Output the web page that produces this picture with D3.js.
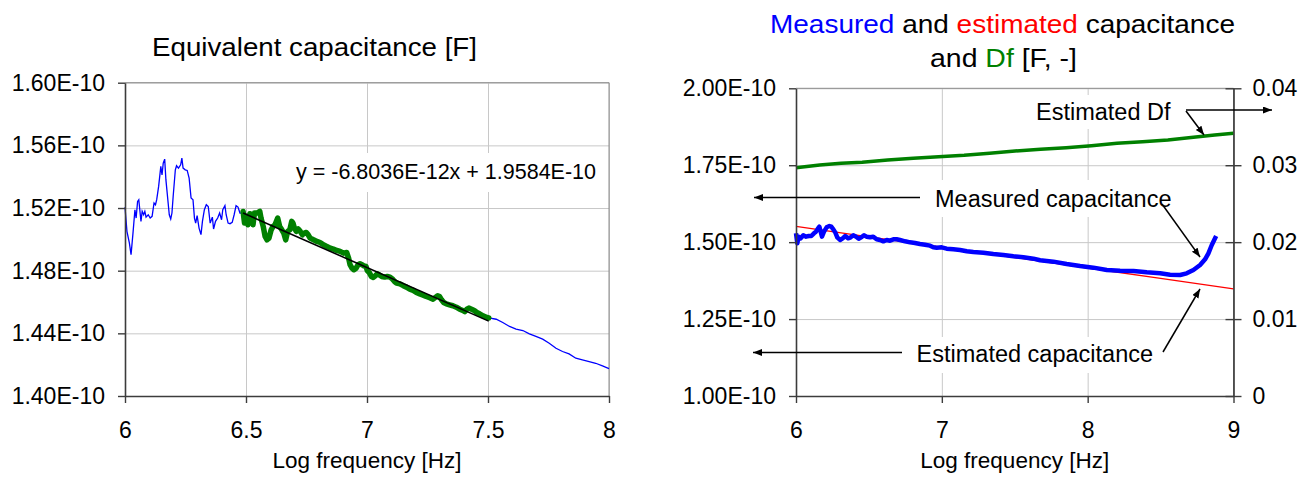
<!DOCTYPE html>
<html>
<head>
<meta charset="utf-8">
<script src="https://cdn.jsdelivr.net/npm/d3@7/dist/d3.min.js"></script>
<style>
  body { margin: 0; background: #fff; }
  svg { display: block; }
</style>
</head>
<body>
<svg width="1312" height="477"></svg>
<script>
// ---- data (capacitance in units of 1E-10 F, frequency as log10 Hz) ----
const leftFreq = [6.000,6.008,6.018,6.025,6.033,6.041,6.046,6.052,6.057,6.066,6.071,6.077,6.082,6.087,6.096,6.104,6.112,6.120,6.126,6.131,
  6.139,6.148,6.153,6.158,6.164,6.169,6.175,6.183,6.189,6.194,6.199,6.208,6.213,6.221,6.230,6.235,6.240,6.249,6.257,6.265,
  6.273,6.281,6.287,6.292,6.298,6.306,6.314,6.320,6.328,6.336,6.344,6.352,6.361,6.366,6.374,6.383,6.391,6.399,6.404,6.413,
  6.418,6.426,6.434,6.443,6.451,6.459,6.467,6.475,6.484,
  6.488,6.494,6.502,6.508,6.516,6.524,6.529,6.535,6.546,6.557,6.562,6.571,6.579,6.587,6.595,6.604,6.612,6.620,6.631,6.639,
  6.648,6.656,6.664,6.672,6.681,6.689,6.694,6.700,6.708,6.716,6.724,6.733,6.741,6.749,6.757,6.765,6.779,6.793,6.806,6.820,
  6.834,6.848,6.861,6.875,6.889,6.903,6.916,6.924,6.930,6.938,6.946,6.955,6.963,6.971,6.979,6.987,6.996,7.001,7.009,7.018,
  7.026,7.034,7.042,7.050,7.061,7.073,7.084,7.095,7.106,7.114,7.122,7.136,7.150,7.163,7.177,7.191,7.204,7.218,7.232,7.245,
  7.259,7.273,7.284,7.292,7.300,7.308,7.317,7.328,7.341,7.355,7.369,7.383,7.396,7.404,7.413,7.421,7.432,7.443,7.454,7.465,
  7.479,7.492,7.503,
  7.534,7.561,7.589,7.616,7.644,7.671,7.698,7.726,7.753,7.781,7.808,7.835,7.863,7.890,7.918,7.945,7.973,8.000];
const leftCap = [1.5206,1.5051,1.4977,1.4902,1.5040,1.5189,1.5136,1.5242,1.5253,1.5115,1.5179,1.5157,1.5179,1.5142,1.5157,1.5136,1.5147,1.5232,1.5221,1.5253,
  1.5338,1.5466,1.5412,1.5487,1.5512,1.5381,1.5285,1.5157,1.5130,1.5168,1.5274,1.5444,1.5470,1.5455,1.5476,1.5519,1.5455,1.5444,1.5440,1.5391,
  1.5264,1.5253,1.5136,1.5104,1.5151,1.5072,1.5030,1.5115,1.5189,1.5221,1.5210,1.5104,1.5142,1.5066,1.5115,1.5136,1.5168,1.5125,1.5189,1.5215,
  1.5157,1.5104,1.5100,1.5108,1.5157,1.5215,1.5206,1.5168,1.5168,
  1.5178,1.5104,1.5147,1.5093,1.5164,1.5157,1.5093,1.5168,1.5168,1.5178,1.5136,1.5083,1.5019,1.4997,1.5008,1.5061,1.5083,1.5093,1.5136,1.5083,
  1.5061,1.5040,1.4997,1.5051,1.5061,1.5115,1.5104,1.5072,1.5051,1.5066,1.5051,1.5029,1.5040,1.5044,1.5029,1.5008,1.4997,1.4987,1.4980,1.4965,
  1.4955,1.4944,1.4938,1.4929,1.4923,1.4912,1.4916,1.4880,1.4838,1.4816,1.4806,1.4816,1.4838,1.4844,1.4838,1.4831,1.4827,1.4801,1.4789,1.4763,
  1.4757,1.4767,1.4780,1.4774,1.4763,1.4759,1.4763,1.4759,1.4746,1.4731,1.4721,1.4716,1.4704,1.4695,1.4682,1.4674,1.4661,1.4652,1.4644,1.4635,
  1.4627,1.4618,1.4631,1.4640,1.4635,1.4614,1.4597,1.4588,1.4582,1.4576,1.4567,1.4554,1.4546,1.4539,1.4554,1.4561,1.4554,1.4546,1.4533,1.4525,
  1.4512,1.4503,1.4499,
  1.4490,1.4469,1.4444,1.4427,1.4418,1.4397,1.4380,1.4363,1.4337,1.4305,1.4284,1.4269,1.4241,1.4231,1.4220,1.4209,1.4192,1.4175];
const fitFrom = 6.488, fitTo = 7.503;
const trendFreq = [6.488, 7.503];
const trendCap = [1.5168, 1.4478];

const measFreq = [6.000,6.009,6.018,6.032,6.050,6.069,6.087,6.105,6.123,6.137,6.151,6.160,6.169,6.178,6.192,6.210,6.229,6.242,6.256,6.270,
  6.283,6.302,6.320,6.338,6.357,6.375,6.393,6.412,6.430,6.448,6.466,6.485,6.508,6.530,6.553,6.576,6.599,6.622,6.645,6.668,
  6.690,6.713,6.748,6.782,6.816,6.850,6.885,6.919,6.942,6.965,6.999,7.033,7.079,7.125,7.171,7.216,7.285,7.353,7.422,7.491,
  7.559,7.628,7.674,7.765,7.856,7.948,8.039,8.131,8.222,8.314,8.405,8.497,8.565,8.634,8.679,8.725,8.771,8.805,8.828,8.851,8.881];
const measCap = [1.5287,1.4962,1.5178,1.5124,1.5222,1.5178,1.5200,1.5200,1.5287,1.5341,1.5449,1.5503,1.5341,1.5178,1.5341,1.5482,1.5525,1.5503,1.5417,1.5308,
  1.5157,1.5070,1.5124,1.5200,1.5124,1.5157,1.5222,1.5178,1.5113,1.5157,1.5222,1.5178,1.5157,1.5178,1.5092,1.5070,1.5027,1.5070,1.5048,1.5092,
  1.5092,1.5070,1.5027,1.4994,1.4972,1.4940,1.4918,1.4886,1.4832,1.4821,1.4832,1.4788,1.4767,1.4745,1.4702,1.4680,1.4658,1.4615,1.4582,1.4539,
  1.4507,1.4463,1.4410,1.4366,1.4290,1.4225,1.4171,1.4095,1.4073,1.4062,1.4019,1.3987,1.3943,1.3932,1.3987,1.4095,1.4257,1.4442,1.4637,1.4907,1.5200];

const estFreq = [6, 6.5, 7, 7.5, 8, 8.5, 9];
const estCap = [1.551, 1.517, 1.484, 1.450, 1.416, 1.382, 1.348];

const dfFreq = [6.000,6.163,6.309,6.454,6.629,6.804,6.978,7.153,7.328,7.502,7.677,7.852,8.026,8.201,8.376,8.550,8.725,8.871,9.000];
const dfVal = [0.02968,0.03003,0.03025,0.03038,0.03068,0.0309,0.03111,0.03129,0.03155,0.03185,0.03207,0.03228,0.03254,0.03285,0.03306,0.03328,0.03363,0.03393,0.03415];

const leftXTicks = [6, 6.5, 7, 7.5, 8];
const leftYTicks = [1.40, 1.44, 1.48, 1.52, 1.56, 1.60];
const rightXTicks = [6, 7, 8, 9];
const rightYTicks = [1.00, 1.25, 1.50, 1.75, 2.00];
const dfTicks = [0, 0.01, 0.02, 0.03, 0.04];

// ---- drawing ----
const FONT = '"Liberation Sans", Arial, Helvetica, sans-serif';
const gridColor = "#c8c8c8", borderColor = "#8c8c8c", axisColor = "#3c3c3c";
const svg = d3.select("svg").attr("font-family", FONT);

const defs = svg.append("defs");
defs.append("marker").attr("id", "arrow")
  .attr("markerUnits", "userSpaceOnUse")
  .attr("markerWidth", 10).attr("markerHeight", 8)
  .attr("refX", 9).attr("refY", 3.5).attr("orient", "auto")
  .append("path").attr("d", "M0,0L9,3.5L0,7Z").attr("fill", "#000");

const capFmt = d => d.toFixed(2) + "E-10";
const line = (x, y) => d3.line().x(d => x(d[0])).y(d => y(d[1]));

function grid(x, y, xTicks, yTicks) {
  const [x0, x1] = x.range(), [y0, y1] = y.range();
  const g = svg.append("g");
  g.append("g").attr("transform", `translate(${x0},0)`)
    .call(d3.axisLeft(y).tickValues(yTicks).tickSize(-(x1 - x0)).tickFormat(""))
    .call(s => s.select(".domain").remove())
    .selectAll("line").attr("stroke", gridColor);
  g.append("g").attr("transform", `translate(0,${y0})`)
    .call(d3.axisBottom(x).tickValues(xTicks).tickSize(-(y0 - y1)).tickFormat(""))
    .call(s => s.select(".domain").remove())
    .selectAll("line").attr("stroke", gridColor);
  g.append("path").attr("d", `M${x0},${y1}H${x1}V${y0}`)
    .attr("fill", "none").attr("stroke", borderColor);
}

function styleAxis(s) {
  s.attr("font-family", FONT).attr("font-size", 23);
  s.select(".domain").attr("stroke", axisColor).attr("stroke-width", 1.6);
  s.selectAll(".tick line").attr("stroke", axisColor).attr("stroke-width", 1.4);
  s.selectAll(".tick text").attr("fill", "#000");
}

function axes(x, y, xTicks, yTicks) {
  const [x0] = x.range(), [y0] = y.range();
  svg.append("g").attr("transform", `translate(${x0},0)`)
    .call(d3.axisLeft(y).tickValues(yTicks).tickSize(7).tickPadding(13).tickSizeOuter(0).tickFormat(capFmt))
    .call(styleAxis);
  svg.append("g").attr("transform", `translate(0,${y0})`)
    .call(d3.axisBottom(x).tickValues(xTicks).tickSize(7).tickPadding(19).tickSizeOuter(0).tickFormat(d3.format("")))
    .call(styleAxis);
  const [xa, xb] = x.range();
  svg.append("text").attr("x", (xa + xb) / 2).attr("y", 468)
    .attr("text-anchor", "middle").attr("font-size", 22.5)
    .text("Log frequency [Hz]");
}

function whiteBox(x, y, w, h) {
  svg.append("rect").attr("x", x).attr("y", y).attr("width", w).attr("height", h).attr("fill", "#fff");
}

function arrow(x1, y1, x2, y2) {
  svg.append("line").attr("x1", x1).attr("y1", y1).attr("x2", x2).attr("y2", y2)
    .attr("stroke", "#000").attr("stroke-width", 1.5).attr("marker-end", "url(#arrow)");
}

// ---------- left chart ----------
const xL = d3.scaleLinear().domain([6, 8]).range([125, 609]);
const yL = d3.scaleLinear().domain([1.40, 1.60]).range([396, 82.7]);
grid(xL, yL, leftXTicks, leftYTicks);
whiteBox(288, 153, 316, 39);

const leftPts = leftFreq.map((f, i) => [f, leftCap[i]]);
svg.append("path").attr("d", line(xL, yL)(leftPts))
  .attr("fill", "none").attr("stroke", "#0000ff").attr("stroke-width", 1.3);
svg.append("path").attr("d", line(xL, yL)(leftPts.filter(d => d[0] >= fitFrom && d[0] <= fitTo)))
  .attr("fill", "none").attr("stroke", "#008000").attr("stroke-width", 5.5)
  .attr("stroke-linejoin", "round").attr("stroke-linecap", "round");
svg.append("path").attr("d", line(xL, yL)(trendFreq.map((f, i) => [f, trendCap[i]])))
  .attr("fill", "none").attr("stroke", "#000").attr("stroke-width", 1.6);

axes(xL, yL, leftXTicks, leftYTicks);

svg.append("text").attr("x", 296).attr("y", 179.3).attr("font-size", 21.5)
  .text("y = -6.8036E-12x + 1.9584E-10");

svg.append("text").attr("x", 152).attr("y", 56).attr("font-size", 25)
  .attr("textLength", 325).attr("lengthAdjust", "spacingAndGlyphs")
  .text("Equivalent capacitance [F]");

// ---------- right chart ----------
const xR = d3.scaleLinear().domain([6, 9]).range([796, 1233.5]);
const yR = d3.scaleLinear().domain([1.00, 2.00]).range([396, 88.3]);
const yDf = d3.scaleLinear().domain([0, 0.04]).range([396, 88.3]);
grid(xR, yR, rightXTicks, rightYTicks);

// label backgrounds
whiteBox(1030, 95, 148, 34);
whiteBox(928, 180, 248, 37);
whiteBox(910, 337, 252, 36);

svg.append("path").attr("d", line(xR, yDf)(dfFreq.map((f, i) => [f, dfVal[i]])))
  .attr("fill", "none").attr("stroke", "#008000").attr("stroke-width", 3.5);
svg.append("path").attr("d", line(xR, yR)(estFreq.map((f, i) => [f, estCap[i]])))
  .attr("fill", "none").attr("stroke", "#ff0000").attr("stroke-width", 1.3);
svg.append("path").attr("d", line(xR, yR)(measFreq.map((f, i) => [f, measCap[i]])))
  .attr("fill", "none").attr("stroke", "#0000ff").attr("stroke-width", 4.5)
  .attr("stroke-linejoin", "round");

axes(xR, yR, rightXTicks, rightYTicks);

// secondary axis (ticks cross the axis line)
svg.append("g").attr("transform", `translate(${xR.range()[1]},0)`)
  .call(d3.axisRight(yDf).tickValues(dfTicks).tickSize(8).tickPadding(11).tickSizeOuter(0)
    .tickFormat(d => d === 0 ? "0" : d.toFixed(2)))
  .call(styleAxis)
  .call(s => s.selectAll(".tick line").attr("x1", -8));

// annotations
svg.append("text").attr("x", 1036).attr("y", 120).attr("font-size", 23.5).text("Estimated Df");
arrow(1186, 110, 1272, 110);
arrow(1186, 111, 1204, 135);

svg.append("text").attr("x", 935).attr("y", 206.7).attr("font-size", 23.5).text("Measured capacitance");
arrow(920, 197.5, 754, 197.5);
arrow(1162, 204, 1200, 257);

svg.append("text").attr("x", 916.6).attr("y", 361.7).attr("font-size", 23.5).text("Estimated capacitance");
arrow(902, 352.5, 753, 352.5);
arrow(1163, 352, 1200, 289);

// two-line coloured title
const t1 = svg.append("text").attr("x", 770).attr("y", 32.7).attr("font-size", 25)
  .attr("textLength", 465).attr("lengthAdjust", "spacingAndGlyphs");
t1.append("tspan").attr("fill", "#0000ff").text("Measured");
t1.append("tspan").attr("fill", "#000").text(" and ");
t1.append("tspan").attr("fill", "#ff0000").text("estimated");
t1.append("tspan").attr("fill", "#000").text(" capacitance");
const t2 = svg.append("text").attr("x", 930).attr("y", 66.7).attr("font-size", 25)
  .attr("textLength", 147).attr("lengthAdjust", "spacingAndGlyphs");
t2.append("tspan").attr("fill", "#000").text("and ");
t2.append("tspan").attr("fill", "#008000").text("Df");
t2.append("tspan").attr("fill", "#000").text(" [F, -]");
</script>
</body>
</html>
